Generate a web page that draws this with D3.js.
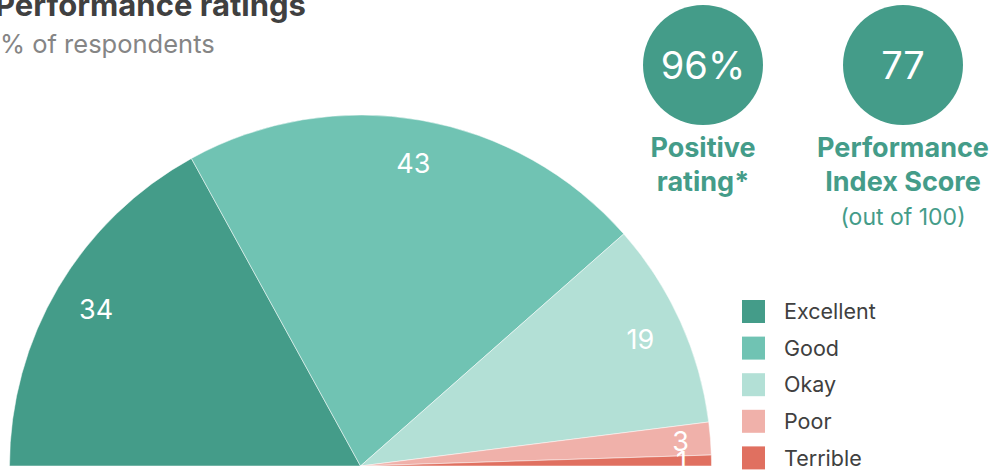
<!DOCTYPE html>
<meta charset="utf-8">
<html>
  <head>
    <style>
      body { margin: 0; background: #fff; }
      #chart { font-family: Inter, "Noto Sans", sans-serif; }
      text.slicelabel { fill: #fff; font-size: 27px; }
      text.legendlabel { fill: #404040; font-size: 21.5px; }
      text.kpi { fill: #449c89; font-size: 27px; font-weight: bold; }
    </style>
    <script src="https://d3js.org/d3.v7.min.js"></script>
  </head>
  <body>
<div id="chart"></div>

<script type="text/javascript">
// data
var categories = ["Excellent", "Good", "Okay", "Poor", "Terrible"];
var values = [34, 43, 19, 3, 1];
var colors = ["#449c89", "#70c3b3", "#b3e0d6", "#f0b1aa", "#e07060"];
var kpiValues = ["96%", "77"];
var kpiLabels = [["Positive", "rating*"], ["Performance", "Index Score"]];
var kpiNotes = ["", "(out of 100)"];

var width = 991, height = 471;

var svg = d3.select("#chart")
  .append("svg")
  .attr("width", width)
  .attr("height", height);

// title
svg.append("text")
  .attr("x", -5).attr("y", 16)
  .style("font-size", "31px").style("font-weight", "bold")
  .style("fill", "#404040")
  .text("Performance ratings");
svg.append("text")
  .attr("x", 0).attr("y", 53)
  .style("font-size", "25.5px")
  .style("fill", "#858585")
  .text("% of respondents");

// half pie
var radius = 351;
var g = svg.append("g").attr("transform", "translate(360.5,466)");

var pie = d3.pie().sort(null)
  .startAngle(-Math.PI / 2).endAngle(Math.PI / 2);
var arcs = pie(values);

var arc = d3.arc().innerRadius(0).outerRadius(radius);

g.selectAll("path.slice")
  .data(arcs)
  .enter()
  .append("path")
  .attr("class", "slice")
  .attr("d", arc)
  .style("fill", function(d, i) { return colors[i]; })
  .style("stroke", "#fff")
  .style("stroke-width", 0.5);

g.selectAll("text.slicelabel")
  .data(arcs)
  .enter()
  .append("text")
  .attr("class", "slicelabel")
  .attr("transform", function(d) {
    var r = d.value < 5 ? radius - 30 : radius * 0.875;
    var a = (d.startAngle + d.endAngle) / 2;
    return "translate(" + (r * Math.sin(a)) + "," + (-r * Math.cos(a)) + ")";
  })
  .attr("text-anchor", "middle")
  .attr("dy", "0.36em")
  .text(function(d) { return d.value; });

// KPI circles
var kpiX = d3.scalePoint().domain(d3.range(kpiValues.length)).range([703, 903]);

var kpi = svg.selectAll("g.kpi")
  .data(kpiValues)
  .enter()
  .append("g")
  .attr("transform", function(d, i) { return "translate(" + kpiX(i) + ",0)"; });

kpi.append("circle")
  .attr("cy", 65).attr("r", 60)
  .style("fill", "#449c89");
kpi.append("text")
  .attr("y", 65).attr("dy", "0.36em")
  .attr("text-anchor", "middle")
  .style("fill", "#fff").style("font-size", "38px")
  .text(function(d) { return d; });

kpi.each(function(d, i) {
  var el = d3.select(this);
  kpiLabels[i].forEach(function(line, j) {
    el.append("text")
      .attr("class", "kpi")
      .attr("y", 157 + j * 34)
      .attr("text-anchor", "middle")
      .text(line);
  });
  if (kpiNotes[i]) {
    el.append("text")
      .attr("y", 225)
      .attr("text-anchor", "middle")
      .style("fill", "#449c89").style("font-size", "23px")
      .text(kpiNotes[i]);
  }
});

// legend
var ly = d3.scaleBand().domain(categories).range([300, 483]);

var legend = svg.selectAll("g.legend")
  .data(categories)
  .enter()
  .append("g")
  .attr("transform", function(d) { return "translate(742," + ly(d) + ")"; });

legend.append("rect")
  .attr("width", 23).attr("height", 23)
  .style("fill", function(d, i) { return colors[i]; });
legend.append("text")
  .attr("class", "legendlabel")
  .attr("x", 42).attr("y", 11.5).attr("dy", "0.36em")
  .text(function(d) { return d; });
</script>
</body>
</html>
